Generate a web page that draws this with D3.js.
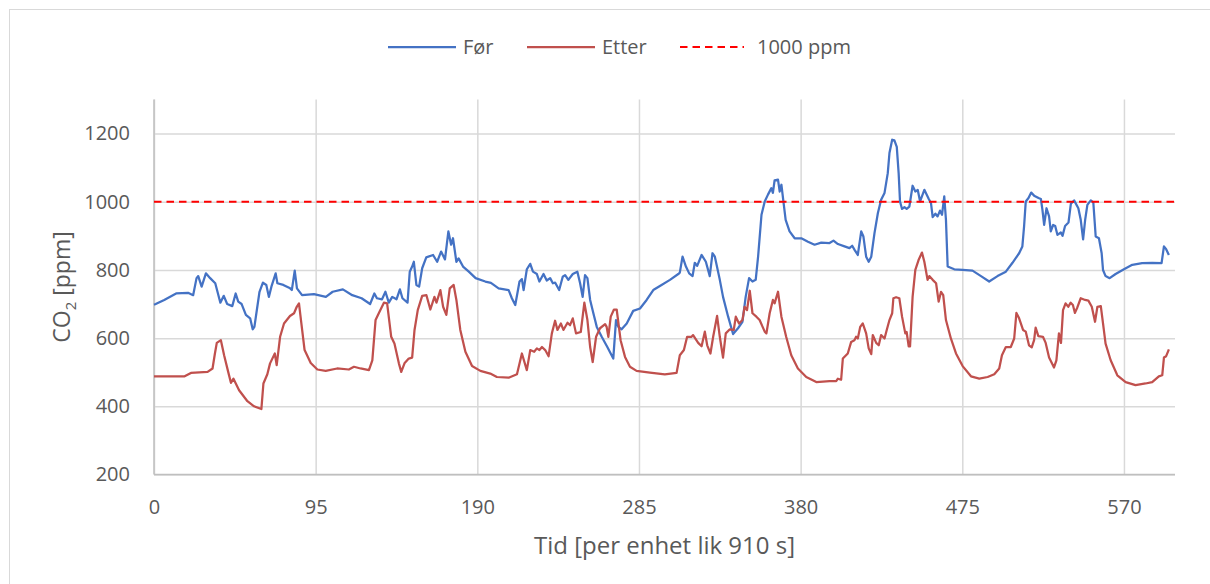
<!DOCTYPE html>
<head>
  <meta charset="utf-8">
  <style>
    body { margin: 0; background: #fff; }
    text { font-family: "Open Sans", "Liberation Sans", sans-serif; fill: #595959; }
  </style>
</head>
<body>
  <div id="chart"></div>
  <script src="https://d3js.org/d3.v7.min.js"></script>
  <script>

    // tick labels
    var xTicks = [0, 95, 190, 285, 380, 475, 570]
    var yTicks = [200, 400, 600, 800, 1000, 1200]

    // series, [tid, ppm]
    var forData = [[0,698],[1,700],[6,712],[13,731],[20,733],[23,726],[25,776],[26,782],[28,751],[30.5,790],[33,776],[36,761],[39,704],[41,724],[43,700],[46,694],[48,731],[49.5,707],[51.5,700],[54,668],[56.5,658],[58,626],[59,633],[62,736],[64,763],[66,756],[67.5,721],[69,751],[71.5,790],[72.5,761],[76,756],[80,746],[81,741],[82.7,798],[84,746],[87,726],[94,729],[101,721],[105,736],[111,743],[116.5,726],[122,717],[127,700],[129.5,731],[131,717],[134,714],[136,736],[138,704],[140,721],[142.5,714],[144.5,743],[146,717],[149,704],[150.3,795],[151.7,810],[152.7,824],[154.2,756],[155.8,751],[157.6,805],[160,837],[164,844],[166.4,824],[168.7,854],[171,831],[173,913],[174.6,874],[175.7,893],[177.7,824],[179,834],[181.6,810],[185,795],[189,776],[194.7,766],[198,762],[202.5,746],[208.4,741],[210.3,717],[212.3,697],[214.8,766],[216.2,773],[217.2,741],[219.1,802],[221.1,818],[222.7,795],[225,788],[226.5,766],[228.9,788],[230.8,769],[232.8,776],[234.4,761],[235.7,763],[238.1,741],[240.2,780],[241.6,785],[243.5,771],[246.1,788],[248.8,795],[250.4,761],[251.9,721],[253.3,785],[254.7,776],[256.3,712],[258.2,673],[260.2,633],[263.1,604],[266.4,574],[269.9,540],[271.5,653],[272.9,633],[274.8,626],[277.8,643],[281.6,680],[285.6,687],[289.5,712],[293.4,741],[297.3,753],[303.2,771],[308.1,788],[309,792],[310.6,839],[312.6,810],[314.5,790],[316.5,782],[317.8,821],[319.2,812],[321.8,844],[324.3,824],[326.6,782],[328.2,849],[329.6,839],[332.5,771],[334.4,721],[337.4,663],[340.3,612],[343.2,629],[345.8,648],[347.7,721],[349.7,776],[351.7,766],[353.6,771],[355,839],[357,962],[358.9,1001],[360.8,1021],[362.8,1040],[363.7,1026],[364.7,1063],[366.7,1065],[367.7,1030],[368.7,1050],[370,996],[371.2,947],[373.5,913],[376.5,893],[380.4,893],[384.3,883],[388.2,874],[392.1,880],[397,879],[399.3,886],[401.9,876],[405.8,869],[408.7,864],[410.3,871],[411.7,859],[413.6,844],[415.6,913],[416.9,898],[418.5,839],[420,824],[421.5,839],[423.4,908],[425.4,967],[427.3,1006],[429.3,1026],[431.2,1084],[432.2,1143],[433.8,1182],[435.1,1180],[436.5,1161],[437.6,1084],[438.4,1001],[439.6,979],[441,984],[442.3,979],[443.9,986],[445.8,1047],[447.4,1030],[448.8,1035],[450.2,1001],[452.7,1035],[455.3,1008],[456.6,996],[457.6,955],[459.2,965],[460.5,957],[461.9,974],[463.1,962],[464.4,1016],[465.4,947],[466.4,810],[470.3,802],[475.2,800],[481,798],[486,782],[490.8,766],[495.7,782],[500.6,795],[504.5,821],[508.4,849],[510.3,869],[511.3,927],[512.3,1001],[513.9,1011],[515.5,1027],[517.2,1018],[519.8,1011],[521.2,1008],[522.1,976],[523.1,932],[524.5,981],[526,957],[527,913],[528.4,932],[529.6,929],[530.9,903],[532.9,910],[533.9,900],[535.4,929],[537.4,939],[538.8,994],[540.7,1004],[543.2,981],[544.6,947],[546,890],[547.2,947],[548.5,991],[550.5,1004],[552,998],[553.4,898],[555.3,893],[556.9,849],[557.7,800],[559.2,782],[561.6,776],[565.1,788],[570,802],[574.9,815],[580.7,820],[586.6,821],[592.1,820],[593.5,869],[594.8,861],[596.4,844]]

    var etterData = [[0,488],[18,488],[21.7,498],[31.5,501],[34.4,511],[35.8,555],[36.9,586],[39.3,594],[41.2,550],[43.6,501],[45.2,469],[46.7,481],[50,447],[54.9,415],[58.8,400],[63.1,392],[64.3,467],[66.6,494],[68.2,526],[71,555],[72.1,521],[74.1,604],[76.4,643],[79.9,665],[82.3,673],[83.9,692],[85.2,702],[86.6,643],[88.5,565],[92.1,527],[96,508],[100.9,504],[107.6,511],[114.5,508],[117.5,516],[121.4,511],[126.3,506],[128.3,535],[130.2,653],[132.1,673],[135.1,704],[137,702],[139.4,604],[141.3,584],[143.9,526],[145.3,501],[147.2,526],[149.7,540],[151.7,543],[153.1,624],[155,682],[157.6,724],[160.1,726],[162.4,684],[164.8,721],[166,704],[168.3,741],[169.9,692],[171.8,668],[173.8,746],[176.1,756],[177.7,712],[180,624],[183,560],[186.9,518],[191.8,504],[197.6,496],[201.5,486],[208.4,484],[213.3,494],[216.2,555],[219.1,506],[221.1,565],[223.4,560],[225,570],[226.5,565],[228,574],[229.9,565],[231.9,547],[233.8,614],[235.7,651],[237.1,624],[239.1,643],[240.6,624],[243,645],[244.5,638],[246.1,658],[248,614],[250.8,618],[252.9,704],[254.7,653],[256.3,574],[257.8,530],[259.8,604],[262.1,629],[265.1,641],[266,633],[267,604],[268.4,663],[270.3,684],[271.9,684],[274.2,594],[276.8,545],[279.7,516],[283.6,504],[291.4,499],[300.2,494],[307.1,498],[309,550],[311.4,565],[313.3,604],[315.9,604],[316.8,609],[319.8,586],[321.8,576],[323.7,619],[325.1,579],[327,555],[328.6,604],[330.9,665],[332.5,604],[334.4,543],[336,614],[338.4,626],[340.7,624],[341.9,663],[343.8,643],[345.8,653],[347.1,692],[348.5,682],[350.1,739],[351.7,673],[354,663],[355.9,653],[358.9,619],[359.9,614],[361.8,673],[363.7,712],[364.7,702],[366.7,736],[368.7,663],[371.5,604],[374.5,550],[378.4,511],[383.3,486],[389.2,471],[397,474],[400.9,474],[401.9,481],[403.8,478],[404.8,540],[407.7,555],[409.7,589],[411.6,594],[412.6,604],[413.6,599],[415,633],[416.5,643],[418.5,614],[420,570],[421.5,553],[422.4,609],[424.4,586],[425.9,579],[427.3,609],[429.3,599],[430.6,624],[432.2,653],[433.8,673],[434.5,717],[436.1,720],[438,717],[439.6,663],[441.5,614],[442.3,618],[443.5,576],[444.3,576],[445.8,721],[447.4,800],[449.3,829],[451.3,851],[452.7,824],[454.6,771],[455.6,782],[457.6,771],[459.6,761],[461.1,707],[462.5,736],[463.8,726],[465.4,653],[468.3,599],[471.3,555],[475.2,518],[480.1,488],[485,481],[489.9,486],[493.8,494],[496.7,511],[498.3,550],[500.6,574],[503.5,574],[505.5,599],[506.8,674],[508.4,658],[510.7,624],[512.3,619],[514.2,579],[515.8,573],[517.2,594],[518.1,631],[519.7,606],[522.4,604],[524,586],[526,543],[528.9,514],[530.3,535],[531.8,614],[533,586],[534.2,682],[535.7,702],[537.3,692],[538.7,704],[540,697],[541.2,674],[542.6,690],[544.6,717],[547.2,712],[549.1,710],[551.1,692],[553,648],[554.4,692],[556.4,694],[557.7,643],[559.2,584],[562.2,535],[566.1,491],[571,471],[576.8,462],[582.7,467],[586.6,471],[590.5,488],[592.5,491],[593.5,543],[594.8,547],[596.4,567]]

    var grense = 1000

    var width = 1210,
        height = 584

    var svg = d3.select("#chart").append("svg")
      .attr("width", width)
      .attr("height", height)

    // chart frame
    svg.append("rect")
      .attr("x", 9.5).attr("y", 9.5)
      .attr("width", 1240).attr("height", 620)
      .attr("fill", "white")
      .attr("stroke", "#d9d9d9")

    var x = d3.scaleLinear().domain([0, 600]).range([154, 1175])
    var y = d3.scaleLinear().domain([200, 1300]).range([474.5, 99.5])

    // gridlines + tick labels
    var yAxis = svg.append("g")
      .attr("transform", "translate(" + x(0) + ",0)")
      .call(d3.axisLeft(y).tickValues(yTicks).tickFormat(d3.format("d"))
        .tickSize(-(x(600) - x(0))).tickPadding(24))
    yAxis.select(".domain").remove()
    yAxis.selectAll("line").attr("stroke", "#d9d9d9").attr("stroke-width", 1.5)
    yAxis.selectAll("text").style("font-size", "20px").attr("fill", "#595959")

    var xAxis = svg.append("g")
      .attr("transform", "translate(0," + y(200) + ")")
      .call(d3.axisBottom(x).tickValues(xTicks).tickFormat(d3.format("d"))
        .tickSize(-(y(200) - y(1300))).tickPadding(25))
    xAxis.select(".domain").remove()
    xAxis.selectAll("line").attr("stroke", "#d9d9d9").attr("stroke-width", 1.5)
    xAxis.selectAll("text").style("font-size", "20px").attr("fill", "#595959")

    // axis lines
    svg.append("line")
      .attr("x1", x(0)).attr("x2", x(0))
      .attr("y1", y(1300)).attr("y2", y(200))
      .attr("stroke", "#bfbfbf").attr("stroke-width", 1.5)
    svg.append("line")
      .attr("x1", x(0)).attr("x2", x(600))
      .attr("y1", y(200)).attr("y2", y(200))
      .attr("stroke", "#bfbfbf").attr("stroke-width", 1.5)

    var line = d3.line()
      .x(function(d) { return x(d[0]) })
      .y(function(d) { return y(d[1]) })

    svg.append("path")
      .datum(forData)
      .attr("d", line)
      .attr("fill", "none")
      .attr("stroke", "#4472c4")
      .attr("stroke-width", 2.25)
      .attr("stroke-linejoin", "round")

    svg.append("path")
      .datum(etterData)
      .attr("d", line)
      .attr("fill", "none")
      .attr("stroke", "#c0504d")
      .attr("stroke-width", 2.25)
      .attr("stroke-linejoin", "round")

    // 1000 ppm limit
    svg.append("line")
      .attr("x1", x(0)).attr("x2", x(600))
      .attr("y1", y(grense)).attr("y2", y(grense))
      .attr("stroke", "#ff0000")
      .attr("stroke-width", 2)
      .attr("stroke-dasharray", "7.5,5")

    // axis titles
    svg.append("text")
      .attr("x", (x(0) + x(600)) / 2)
      .attr("y", 554)
      .attr("text-anchor", "middle")
      .style("font-size", "24px")
      .text("Tid [per enhet lik 910 s]")

    var yTitle = svg.append("text")
      .attr("transform", "translate(70," + (y(200) + y(1300)) / 2 + ") rotate(-90)")
      .attr("text-anchor", "middle")
      .style("font-size", "23px")
    yTitle.append("tspan").text("CO")
    yTitle.append("tspan").attr("dy", 6).style("font-size", "15px").text("2")
    yTitle.append("tspan").attr("dy", -6).text(" [ppm]")

    // legend
    var legend = [
      { name: "Før", color: "#4472c4", dash: null, x: 388 },
      { name: "Etter", color: "#c0504d", dash: null, x: 527 },
      { name: "1000 ppm", color: "#ff0000", dash: "7.5,5", x: 680 }
    ]
    var lg = svg.append("g").selectAll("g")
      .data(legend)
      .enter().append("g")
      .attr("transform", function(d) { return "translate(" + d.x + ",47)" })
    lg.append("line")
      .attr("x1", 0).attr("x2", function(d) { return d.dash ? 64 : 68 })
      .attr("stroke", function(d) { return d.color })
      .attr("stroke-width", function(d) { return d.dash ? 2 : 2.25 })
      .attr("stroke-dasharray", function(d) { return d.dash })
    lg.append("text")
      .attr("x", function(d) { return d.dash ? 77 : 75 })
      .attr("dy", "0.35em")
      .style("font-size", "20px")
      .text(function(d) { return d.name })

  </script>
</body>
